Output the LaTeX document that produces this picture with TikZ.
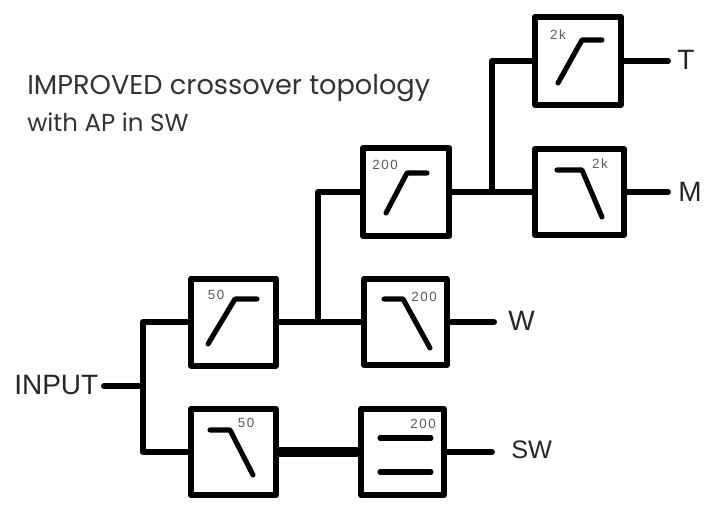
\documentclass[tikz,border=0pt]{standalone}
\usepackage{fontspec}
\setmainfont{Liberation Sans}
\newfontfamily\titlefont{Poppins}
\newfontfamily\freqfont[LetterSpace=12]{Liberation Sans}
\usepackage{xcolor}
\usepackage{tikz}
\usetikzlibrary{positioning, calc}
\tikzset{
    filterbox/.style={draw, line width=4.5pt, line join=round, outer sep=0pt, inner sep=0pt},
    wire/.style={line width=4.5pt, line join=round, line cap=round},
    slope/.style={line width=3.8pt, line join=round, line cap=round},
    freq/.style={font=\fontsize{10pt}{12pt}\freqfont, text=black!65, inner sep=0pt},
    port/.style={font=\fontsize{21pt}{24pt}\selectfont, text=black!85, inner sep=0pt},
    caption/.style={font=\fontsize{20.4pt}{24pt}\titlefont, text=black!80, inner sep=0pt, anchor=west}
}
\begin{document}
\begin{tikzpicture}[x=0.75pt, y=-0.75pt]
    \useasboundingbox (0, 0) rectangle (707, 506);

    \node[filterbox, minimum width=63.75pt, minimum height=65.25pt] (hpfifty) at (233.5, 322) {};
    \node[filterbox, minimum width=63.75pt, minimum height=64.5pt] (lpfifty) at (233.5, 452) {};
    \node[filterbox, minimum width=64.5pt, minimum height=66pt] (hptwo) at (406, 192) {};
    \node[filterbox, minimum width=62.25pt, minimum height=64.5pt] (lptwo) at (405.5, 322) {};
    \node[filterbox, minimum width=62.25pt, minimum height=64.5pt] (apsw) at (402.5, 452) {};
    \node[filterbox, minimum width=64.5pt, minimum height=66pt] (hpkilo) at (578, 61) {};
    \node[filterbox, minimum width=66.75pt, minimum height=64.5pt] (lpkilo) at (579.5, 192) {};

    \node[port, anchor=west] (input) at (14, 385) {INPUT};
    \node[port, anchor=west] (tout) at (677, 60) {T};
    \node[port, anchor=west] (mout) at (678, 192) {M};
    \node[port, anchor=west] (wout) at (508, 321) {W};
    \node[port, anchor=west, font=\fontsize{19pt}{24pt}\selectfont] (swout) at (511, 450) {SW};

    \coordinate (inwire) at (104, 386);
    \coordinate (insplit) at (143, 386);
    \coordinate (lowsplit) at (318, 322);
    \coordinate (midsplit) at (492, 192);
    \coordinate (tend) at (668, 61);
    \coordinate (mend) at (668, 192);
    \coordinate (wend) at (494, 322);
    \coordinate (swend) at (492, 452);

    \draw[wire] (inwire) -- (insplit);
    \draw[wire] (hpfifty.west) -| (insplit) |- (lpfifty.west);
    \draw[wire] (hpfifty.east) -- (lptwo.west);
    \draw[wire] (lowsplit) |- (hptwo.west);
    \draw[wire] (hptwo.east) -- (lpkilo.west);
    \draw[wire] (midsplit) |- (hpkilo.west);
    \draw[line width=7.5pt] (lpfifty.east) -- (apsw.west);
    \draw[wire] (hpkilo.east) -- (tend);
    \draw[wire] (lpkilo.east) -- (mend);
    \draw[wire] (lptwo.east) -- (wend);
    \draw[wire] (apsw.east) -- (swend);

    \draw[slope] (208, 344) -- (235, 299) -- (257, 299);
    \draw[slope] (210, 430) -- (230, 430) -- (253, 475);
    \draw[slope] (386, 213) -- (407, 173) -- (427, 173);
    \draw[slope] (384, 299) -- (403, 299) -- (430, 348);
    \draw[slope] (558, 83) -- (582, 40) -- (602, 40);
    \draw[slope] (557, 170) -- (582, 170) -- (602, 217);
    \draw[slope] (380, 438) -- (431, 438);
    \draw[slope] (380, 472) -- (431, 472);

    \node[freq] (hpfiftyf) at (216, 295) {50};
    \node[freq] (lpfiftyf) at (246, 423) {50};
    \node[freq] (hptwof) at (385, 165) {200};
    \node[freq] (lptwof) at (424, 297) {200};
    \node[freq] (apswf) at (423, 424) {200};
    \node[freq] (hpkilof) at (558, 35) {2k};
    \node[freq] (lpkilof) at (600, 164) {2k};

    \node[caption] (titleone) at (27, 88) {IMPROVED crossover topology};
    \node[caption, font=\fontsize{18.4pt}{22pt}\titlefont] (titletwo) at (27, 122) {with AP in SW};
\end{tikzpicture}
\end{document}
